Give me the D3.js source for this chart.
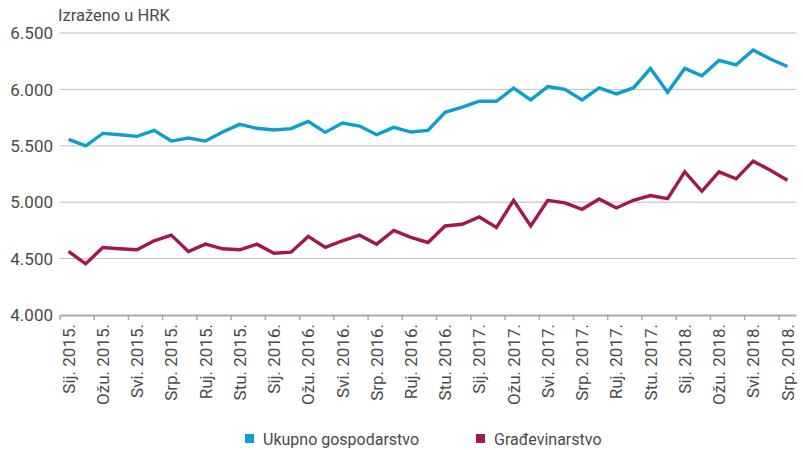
<!DOCTYPE html>
<html>
<head>
<meta charset="utf-8">
<script src="https://cdn.jsdelivr.net/npm/d3@7"></script>
<style>
  body { margin: 0; background: #fff; }
  svg { font-family: Roboto, "Liberation Sans", sans-serif; }
</style>
</head>
<body>
<div id="chart"></div>
<script>
const monthNames = ["Sij.", "Velj.", "Ožu.", "Tra.", "Svi.", "Lip.", "Srp.", "Kol.", "Ruj.", "Lis.", "Stu.", "Pro."];
const months = [];
for (let y = 2015; y <= 2018; y++) {
    for (let m = 0; m < 12; m++) {
        if (y === 2018 && m > 6) break;
        months.push(monthNames[m] + " " + y + ".");
    }
}

const ukupno = [5557, 5500, 5610, 5598, 5584, 5637, 5542, 5569, 5542, 5622, 5690,
    5655, 5640, 5652, 5717, 5619, 5702, 5675, 5598, 5663, 5622, 5637, 5797,
    5842, 5895, 5895, 6011, 5907, 6025, 6000, 5907, 6013, 5960, 6013, 6186,
    5975, 6186, 6120, 6257, 6218, 6349, 6269, 6203];
const gradjevinarstvo = [4563, 4453, 4599, 4587, 4578, 4658, 4708, 4563, 4628, 4587, 4578,
    4628, 4548, 4557, 4697, 4599, 4658, 4708, 4628, 4750, 4688, 4643, 4789,
    4804, 4869, 4777, 5017, 4789, 5017, 4994, 4937, 5029, 4949, 5017, 5059,
    5032, 5269, 5097, 5269, 5207, 5364, 5284, 5195];
const yTicks = [4000, 4500, 5000, 5500, 6000, 6500];

const series = [
    { name: "Ukupno gospodarstvo", values: ukupno, color: "#0a9fd0" },
    { name: "Građevinarstvo", values: gradjevinarstvo, color: "#a3174e" }
];

const width = 803, height = 450;
const margin = { left: 60, right: 7, top: 33, bottom: 135 };

const svg = d3.select("#chart").append("svg")
    .attr("width", width)
    .attr("height", height);

const x = d3.scaleBand()
    .domain(months)
    .range([margin.left, width - margin.right]);

const y = d3.scaleLinear()
    .domain([4000, 6500])
    .range([height - margin.bottom, margin.top]);

// gridlines
svg.append("g")
    .selectAll("line")
    .data(yTicks.filter(d => d > 4000))
    .enter().append("line")
    .attr("x1", margin.left)
    .attr("x2", width - margin.right)
    .attr("y1", d => y(d))
    .attr("y2", d => y(d))
    .style("stroke", "#bcbcbc")
    .style("stroke-width", 1);

// y labels
svg.append("g")
    .selectAll("text")
    .data(yTicks)
    .enter().append("text")
    .attr("x", 53)
    .attr("y", d => y(d))
    .attr("dy", "0.36em")
    .attr("text-anchor", "end")
    .style("font-size", "17px")
    .style("fill", "#4a4a4a")
    .text(d => d3.format(",")(d).replace(",", "."));

// x axis
const xAxis = d3.axisBottom(x)
    .tickValues(months.filter((d, i) => i % 2 === 0))
    .tickSize(5)
    .tickSizeOuter(0);

const gx = svg.append("g")
    .attr("transform", `translate(0,${y(4000)})`)
    .call(xAxis);
gx.select(".domain").style("stroke", "#aaaaaa").style("stroke-width", 2);
gx.selectAll(".tick line")
    .attr("transform", `translate(${-x.bandwidth() / 2},0)`)
    .style("stroke", "#aaaaaa")
    .style("stroke-width", 1.5);
gx.selectAll(".tick text")
    .attr("transform", "rotate(-90)")
    .attr("x", -9)
    .attr("y", 0)
    .attr("dy", "0.36em")
    .attr("text-anchor", "end")
    .style("font-family", "Roboto, sans-serif")
    .style("font-size", "17px")
    .style("fill", "#4a4a4a");

// lines
const line = d3.line()
    .x((d, i) => x(months[i]) + x.bandwidth() / 2)
    .y(d => y(d));

svg.selectAll(".series")
    .data(series)
    .enter().append("path")
    .attr("class", "series")
    .attr("d", d => line(d.values))
    .style("fill", "none")
    .style("stroke", d => d.color)
    .style("stroke-width", 3.4)
    .style("stroke-linejoin", "miter");

// unit label
svg.append("text")
    .attr("x", 58)
    .attr("y", 21)
    .style("font-size", "16.5px")
    .style("fill", "#4a4a4a")
    .text("Izraženo u HRK");

// legend
const legendX = [245, 476];
const legend = svg.selectAll(".legend")
    .data(series)
    .enter().append("g")
    .attr("class", "legend")
    .attr("transform", (d, i) => `translate(${legendX[i]},434)`);
legend.append("rect")
    .attr("width", 9)
    .attr("height", 9)
    .style("fill", d => d.color);
legend.append("text")
    .attr("x", 18)
    .attr("y", 5)
    .attr("dy", "0.35em")
    .style("font-size", "16px")
    .style("fill", "#4a4a4a")
    .text(d => d.name);
</script>
</body>
</html>
